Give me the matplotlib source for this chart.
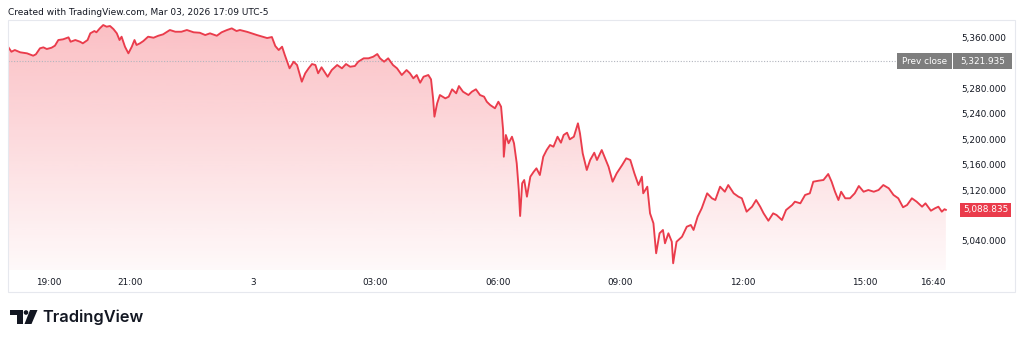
import matplotlib
matplotlib.use("Agg")
import matplotlib.pyplot as plt
import numpy as np
from matplotlib.patches import Rectangle, Polygon, Circle

# minutes after 18:00 (session open) and last price
minutes = [0, 5, 10, 18, 28, 37, 41, 47, 52, 57, 64, 69, 74, 81, 89, 92, 99, 106, 110, 117,
           121, 127, 130, 135, 140, 145, 150, 155, 160, 164, 167, 172, 177, 182, 186, 189, 194, 199, 206, 214,
           221, 228, 238, 246, 255, 263, 273, 282, 290, 297, 307, 314, 322, 329, 336, 341, 352, 366, 381, 388,
           393, 398, 403, 407, 414, 420, 425, 432, 437, 442, 447, 452, 456, 461, 470, 476, 484, 491, 497, 503,
           510, 515, 523, 530, 537, 543, 547, 553, 559, 566, 572, 579, 586, 591, 596, 601, 606, 611, 618, 622,
           625, 627, 631, 635, 643, 648, 653, 659, 663, 669, 677, 682, 688, 694, 700, 704, 709, 716, 721, 725,
           728, 729, 732, 736, 741, 744, 748, 751, 753, 756, 759, 763, 768, 773, 777, 782, 787, 792, 797, 802,
           808, 813, 817, 822, 826, 832, 838, 841, 845, 851, 856, 862, 866, 873, 878, 883, 889, 895, 903, 909,
           915, 921, 927, 932, 934, 940, 944, 949, 953, 958, 963, 966, 971, 976, 978, 983, 991, 998, 1004, 1008,
           1014, 1020, 1028, 1035, 1040, 1047, 1054, 1059, 1067, 1074, 1079, 1086, 1094, 1100, 1106, 1111, 1118, 1125, 1130, 1138,
           1144, 1153, 1157, 1165, 1172, 1179, 1184, 1192, 1199, 1206, 1211, 1216, 1221, 1225, 1231, 1238, 1245, 1251, 1258, 1265,
           1273, 1280, 1287, 1295, 1302, 1309, 1316, 1322, 1329, 1336, 1344, 1349, 1357, 1363, 1368, 1373, 1377, 1379]
price = [5344.8, 5336.9, 5339.6, 5336.0, 5334.4, 5330.7, 5332.9, 5342.3, 5343.8, 5341.2, 5343.2, 5346.4, 5355.3, 5356.4, 5359.5, 5352.6, 5355.3, 5352.6, 5350.1, 5355.3,
         5365.8, 5369.4, 5367.4, 5373.6, 5378.8, 5376.2, 5377.3, 5372.5, 5365.8, 5355.3, 5360.5, 5344.8, 5334.4, 5344.8, 5355.3, 5347.5, 5350.1, 5353.7, 5360.5, 5358.9,
         5362.0, 5364.2, 5371.0, 5368.3, 5368.3, 5371.0, 5367.4, 5366.7, 5363.1, 5365.8, 5362.0, 5367.4, 5371.0, 5373.6, 5369.4, 5371.0, 5368.0, 5363.1, 5358.4, 5360.0,
         5345.9, 5339.6, 5344.8, 5331.8, 5310.9, 5321.3, 5316.1, 5289.9, 5303.1, 5310.9, 5317.6, 5316.1, 5303.1, 5312.5, 5297.7, 5308.2, 5316.1, 5310.9, 5317.6, 5313.4,
         5314.5, 5321.3, 5326.6, 5326.6, 5329.1, 5333.3, 5326.6, 5321.3, 5326.6, 5316.1, 5310.9, 5300.4, 5308.2, 5303.1, 5295.2, 5300.4, 5288.3, 5297.7, 5300.4, 5293.6,
         5263.8, 5235.0, 5256.0, 5269.0, 5263.8, 5266.4, 5278.0, 5271.7, 5283.1, 5274.2, 5269.0, 5274.2, 5278.0, 5269.0, 5266.4, 5258.5, 5253.3, 5248.2, 5258.5, 5250.7,
         5214.1, 5172.2, 5206.3, 5193.3, 5203.6, 5193.3, 5161.9, 5120.0, 5079.2, 5130.5, 5135.7, 5109.5, 5140.9, 5148.7, 5154.0, 5143.5, 5172.2, 5182.7, 5190.6, 5187.9,
         5203.6, 5194.2, 5206.3, 5209.9, 5199.5, 5203.6, 5224.6, 5208.9, 5177.6, 5151.4, 5167.1, 5178.5, 5167.1, 5182.7, 5169.7, 5156.5, 5133.0, 5146.2, 5159.2, 5169.7,
         5167.1, 5146.2, 5127.8, 5140.9, 5114.8, 5125.2, 5083.4, 5067.8, 5020.7, 5052.1, 5057.3, 5036.4, 5052.1, 5038.9, 5005.0, 5038.9, 5046.7, 5062.4, 5065.1, 5057.3,
         5078.1, 5091.3, 5114.8, 5107.0, 5104.3, 5125.2, 5117.3, 5127.8, 5114.8, 5109.5, 5107.0, 5086.0, 5093.8, 5104.3, 5093.8, 5083.4, 5071.8, 5083.4, 5080.8, 5072.9,
         5088.6, 5096.5, 5101.7, 5099.1, 5112.2, 5114.8, 5133.0, 5134.6, 5135.7, 5145.1, 5133.0, 5117.3, 5104.3, 5117.3, 5107.0, 5107.0, 5114.8, 5126.3, 5117.3, 5120.0,
         5117.3, 5120.0, 5127.8, 5122.7, 5112.2, 5107.0, 5092.9, 5096.5, 5107.0, 5101.7, 5093.8, 5099.1, 5087.5, 5091.3, 5093.8, 5086.0, 5089.9, 5088.835]

prev_close = 5321.935
last_price = price[-1]

time_ticks = [60, 180, 360, 540, 720, 900, 1080, 1260, 1360]
time_labels = ["19:00", "21:00", "3", "03:00", "06:00", "09:00", "12:00", "15:00", "16:40"]
price_ticks = [5360, 5280, 5240, 5200, 5160, 5120, 5040]

RED = "#ea3c4c"
TXT = "#131722"

fig = plt.figure(figsize=(10.24, 3.42), dpi=100)
fig.patch.set_facecolor("white")

# main pane: pixels x 8..952, y 20..270
ax = fig.add_axes([8 / 1024, (342 - 270) / 342, 944 / 1024, 250 / 342])
xlo, xhi = 0, 1388
ylo, yhi = 4994.5, 5386.7
ax.set_xlim(xlo, xhi)
ax.set_ylim(ylo, yhi)

# gradient area under the line
alpha = np.linspace(0.32, 0.03, 256)
grad = np.zeros((256, 1, 4))
grad[:, 0, 0] = 242 / 255
grad[:, 0, 1] = 54 / 255
grad[:, 0, 2] = 69 / 255
grad[:, 0, 3] = alpha
im = ax.imshow(grad, extent=[xlo, xhi, ylo, yhi], aspect="auto", origin="upper", zorder=1)
area = ax.fill_between(minutes, price, ylo, facecolor="none", edgecolor="none")
im.set_clip_path(area.get_paths()[0], transform=ax.transData)

ax.plot(minutes, price, color=RED, lw=1.35, zorder=3, solid_joinstyle="round")

# previous close dotted line
ax.axhline(prev_close, xmin=0, xmax=(897 - 8) / 944, color="#b2b5be", lw=0.8, ls=(0, (1, 1.5)), zorder=2)

for s in ax.spines.values():
    s.set_visible(False)
ax.set_facecolor("none")

ax.set_xticks(time_ticks)
ax.set_xticklabels(time_labels)
ax.yaxis.tick_right()
ax.set_yticks(price_ticks)
ax.set_yticklabels([f"{v:,.3f}" for v in price_ticks])
ax.tick_params(axis="both", length=0, labelsize=6.4, colors=TXT)
ax.tick_params(axis="x", pad=6)
ax.tick_params(axis="y", pad=6.5)

# price scale labels
tr = ax.get_yaxis_transform()
upp = (yhi - ylo) / 250  # price units per pixel
ax.add_patch(Rectangle(((897 - 8) / 944, prev_close - 8 * upp), (952 - 897) / 944, 16 * upp,
                       transform=tr, facecolor="#7e7e7e", edgecolor="none", clip_on=False, zorder=5))
ax.add_patch(Rectangle(((953 - 8) / 944, prev_close - 8 * upp), (1012 - 953) / 944, 16 * upp,
                       transform=tr, facecolor="#7e7e7e", edgecolor="none", clip_on=False, zorder=5))
ax.text((924.5 - 8) / 944, prev_close, "Prev close", transform=tr, ha="center", va="center",
        color="white", fontsize=6.4, clip_on=False, zorder=6)
ax.text((982.5 - 8) / 944, prev_close, f"{prev_close:,.3f}", transform=tr, ha="center", va="center",
        color="white", fontsize=6.4, clip_on=False, zorder=6)

ax.add_patch(Rectangle(((960 - 8) / 944, last_price - 7 * upp), (1011 - 960) / 944, 14 * upp,
                       transform=tr, facecolor=RED, edgecolor="none", clip_on=False, zorder=5))
ax.text((985.5 - 8) / 944, last_price, f"{last_price:,.3f}", transform=tr, ha="center", va="center",
        color="white", fontsize=6.4, clip_on=False, zorder=6)

# overlay in pixel coordinates for frame, header and logo
ov = fig.add_axes([0, 0, 1, 1])
ov.set_xlim(0, 1024)
ov.set_ylim(342, 0)
ov.axis("off")
ov.patch.set_alpha(0)
ov.add_patch(Rectangle((8, 20), 1007, 272, facecolor="none", edgecolor="#e6e8ee", lw=0.8))
ov.text(8, 12.5, "Created with TradingView.com, Mar 03, 2026 17:09 UTC-5", fontsize=6.45,
        color=TXT, ha="left", va="center")

ov.add_patch(Polygon([(10, 310), (22.5, 310), (22.5, 324), (17, 324), (17, 315), (10, 315)],
                     closed=True, facecolor=TXT, edgecolor="none"))
ov.add_patch(Circle((26, 312.5), 2.3, facecolor=TXT, edgecolor="none"))
ov.add_patch(Polygon([(30, 310), (37.5, 310), (31.5, 324), (24.5, 324)],
                     closed=True, facecolor=TXT, edgecolor="none"))
ov.text(42, 317, "TradingView", fontsize=11.8, fontfamily="Inter", fontweight="semibold",
        color=TXT, ha="left", va="center")

fig.savefig("out.png", dpi=100, facecolor="white")
